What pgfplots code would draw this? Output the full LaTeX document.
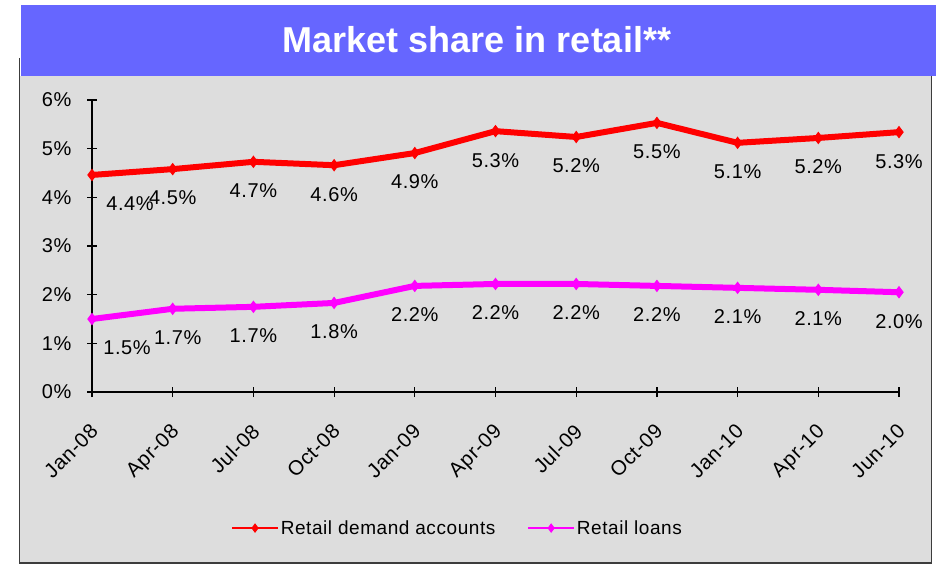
\documentclass[border=0pt]{standalone}
\usepackage{pgfplots}
\pgfplotsset{compat=1.18}
\usepackage{pgfplotstable}
\usepackage{fontspec}
\setmainfont{Liberation Sans}
\newfontfamily\spaced[LetterSpace=3]{Liberation Sans}
\definecolor{band}{RGB}{102,102,255}
\definecolor{panel}{RGB}{221,221,221}
\definecolor{frame}{RGB}{60,60,60}
\definecolor{myred}{RGB}{255,0,0}
\definecolor{mymag}{RGB}{255,0,255}

\pgfplotstableread{
x y lab dx
0 4.46 4.4 38
1 4.58 4.5 0
2 4.73 4.7 0
3 4.66 4.6 0
4 4.91 4.9 0
5 5.36 5.3 0
6 5.24 5.2 0
7 5.53 5.5 0
8 5.12 5.1 0
9 5.22 5.2 0
10 5.34 5.3 0
}\demand

\pgfplotstableread{
x y lab dx
0 1.50 1.5 35
1 1.71 1.7 5
2 1.75 1.7 0
3 1.83 1.8 0
4 2.18 2.2 0
5 2.22 2.2 0
6 2.22 2.2 0
7 2.18 2.2 0
8 2.14 2.1 0
9 2.10 2.1 0
10 2.05 2.0 0
}\loans

\begin{document}
\begin{tikzpicture}
\useasboundingbox (-92bp,-172bp) rectangle (844bp,392bp);
\fill[white] (-92bp,-172bp) rectangle (844bp,392bp);
% grey panel
\fill[panel] (-72.5bp,-171bp) rectangle (839.5bp,316bp);
\draw[frame,line width=1.5bp] (-72.5bp,334bp) -- (-72.5bp,-171bp) -- (839.5bp,-171bp) -- (839.5bp,316bp);
% title band
\fill[band] (-71bp,316bp) rectangle (844bp,387bp);
\node[text=white,font=\fontsize{36bp}{40bp}\selectfont\bfseries] at (385bp,352bp) {Market share in retail**};

\begin{axis}[
  at={(0,0)}, anchor=south west,
  scale only axis, width=807bp, height=292bp,
  xmin=0, xmax=10, ymin=0, ymax=6,
  clip=false,
  axis x line*=bottom, axis y line*=left,
  axis line style={black, line width=1.2bp},
  tick style={black, line width=1.2bp},
  tick align=center,
  major tick length=10bp,
  xtick={0,...,10},
  xticklabels={Jan-08,Apr-08,Jul-08,Oct-08,Jan-09,Apr-09,Jul-09,Oct-09,Jan-10,Apr-10,Jun-10},
  ytick={0,...,6},
  yticklabels={0\%,1\%,2\%,3\%,4\%,5\%,6\%},
  yticklabel style={font=\spaced\fontsize{20bp}{24bp}\selectfont, xshift=-12bp},
  xticklabel style={font=\spaced\fontsize{20.5bp}{24bp}\selectfont, xshift=-3bp, yshift=-24bp, rotate=45, anchor=north east, inner sep=1bp},
  legend style={at={(0.453,-0.466)}, anchor=center, draw=none, fill=none,
    font=\spaced\fontsize{19bp}{22bp}\selectfont, legend columns=2,
    /tikz/every even column/.append style={column sep=30bp}},
  legend image code/.code={
    \draw[#1, line width=1.5bp, mark size=4bp] (0bp,0bp) -- (23bp,0bp) plot coordinates {(23bp,0bp)} -- (46bp,0bp);
  },
  point meta=explicit symbolic,
  nodes near coords={\pgfplotspointmeta\%},
  visualization depends on={\thisrow{dx} \as \dx},
  every node near coord/.append style={font=\spaced\fontsize{20bp}{24bp}\selectfont, text=black,
    anchor=center, yshift=-29bp, xshift=\dx bp},
]
\addplot[myred, line width=6bp, mark=diamond*, mark size=5.5bp, mark options={line width=1bp}]
  table[x=x, y=y, meta=lab] {\demand};
\addlegendentry{Retail demand accounts}
\addplot[mymag, line width=6bp, mark=diamond*, mark size=5.5bp, mark options={line width=1bp}]
  table[x=x, y=y, meta=lab] {\loans};
\addlegendentry{Retail loans}
\end{axis}
\end{tikzpicture}
\end{document}
